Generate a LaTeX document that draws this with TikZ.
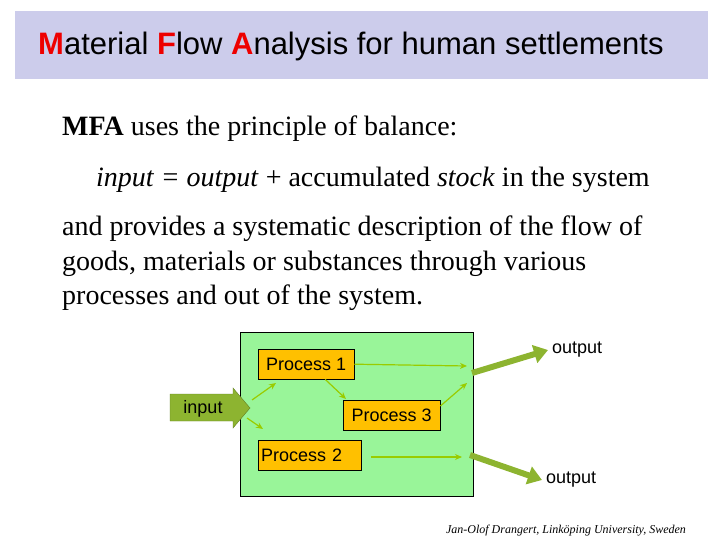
\documentclass[tikz,border=0pt]{standalone}
\usepackage{fontspec}
\setmainfont{Liberation Serif}
\newfontfamily\arialf{Liberation Sans}
\usetikzlibrary{arrows.meta}
\definecolor{titlebg}{HTML}{CCCCEB}
\definecolor{boxgreen}{HTML}{99F599}
\definecolor{procor}{HTML}{FFC000}
\definecolor{arrg}{HTML}{99CC00}
\definecolor{bigarr}{HTML}{8DB430}
\definecolor{tred}{HTML}{EE0000}
\tikzset{
  proc/.style={draw=black,fill=procor,minimum height=30pt,anchor=north west,inner sep=0pt,font=\arialf\fontsize{18}{20}\selectfont},
  thin/.style={draw=arrg,line width=1.2pt,-{Stealth[length=7pt,width=6pt]}},
  fat/.style={draw=bigarr,line width=6pt,-{Triangle[length=14pt,width=18pt]}},
  body/.style={anchor=base west,inner sep=0pt,font=\fontsize{28}{32}\selectfont},
  lab/.style={font=\arialf\fontsize{18}{20}\selectfont,inner sep=0pt}
}
\begin{document}
\begin{tikzpicture}[x=1pt,y=-1pt]
\useasboundingbox (0,0) rectangle (720,540);
\fill[titlebg] (15,11) rectangle (708,79);
\node[anchor=west,inner sep=0pt,font=\arialf\fontsize{31}{36}\selectfont] (title) at (38,46) {\textcolor{tred}{\bfseries M}aterial \textcolor{tred}{\bfseries F}low \textcolor{tred}{\bfseries A}nalysis for human settlements};
\node[body] (l1) at (62,136) {\textbf{MFA} uses the principle of balance:};
\node[body] (l2) at (96,187) {\textit{input = output} + accumulated \textit{stock} in the system};
\node[body] (l3) at (62,236) {and provides a systematic description of the flow of};
\node[body] (l4) at (62,270) {goods, materials or substances through various};
\node[body] (l5) at (62,304) {processes and out of the system.};
\node[draw=black,fill=boxgreen,anchor=north west,minimum width=233pt,minimum height=164pt,inner sep=0pt] (sys) at (240,332) {};
\node[proc,minimum width=96pt] (p1) at (258,349) {Process 1};
\node[proc,minimum width=97pt] (p3) at (343,400) {Process 3};
\node[proc,minimum width=103pt,text width=97pt,align=left] (p2) at (258,440) {Process 2};
\filldraw[fill=bigarr,draw=bigarr!70!black,line width=0.4pt] (170,394) -- (233,394) -- (233,388) -- (250,408) -- (233,428) -- (233,421) -- (170,421) -- cycle;
\node[lab] (inl) at (203,409) {input};
\coordinate (a1s) at (252,400); \coordinate (a1e) at (276,383);
\coordinate (a2s) at (247,418); \coordinate (a2e) at (263,429);
\draw[thin] (a1s) -- (a1e);
\draw[thin] (a2s) -- (a2e);
\coordinate (e1) at (467,366);
\coordinate (e2) at (467,383);
\coordinate (e3) at (462,457);
\draw[thin] (p1.east) -- (e1);
\draw[thin] ([xshift=19pt]p1.south) -- ([xshift=3pt,yshift=1pt]p3.north west);
\draw[thin] ([yshift=-6pt]p3.north east) -- (e2);
\draw[thin] (371,457) -- (e3);
\node[lab,anchor=west] (o1) at (552,350) {output};
\node[lab,anchor=west] (o2) at (546,480) {output};
\draw[fat] (472,373) -- ([xshift=-4pt]o1.west);
\draw[fat] (470,455) -- ([xshift=-4pt]o2.west);
\node[anchor=base,inner sep=0pt,font=\itshape\fontsize{12}{14}\selectfont] (ft) at (566,533) {Jan-Olof Drangert, Linköping University, Sweden};
\end{tikzpicture}
\end{document}
